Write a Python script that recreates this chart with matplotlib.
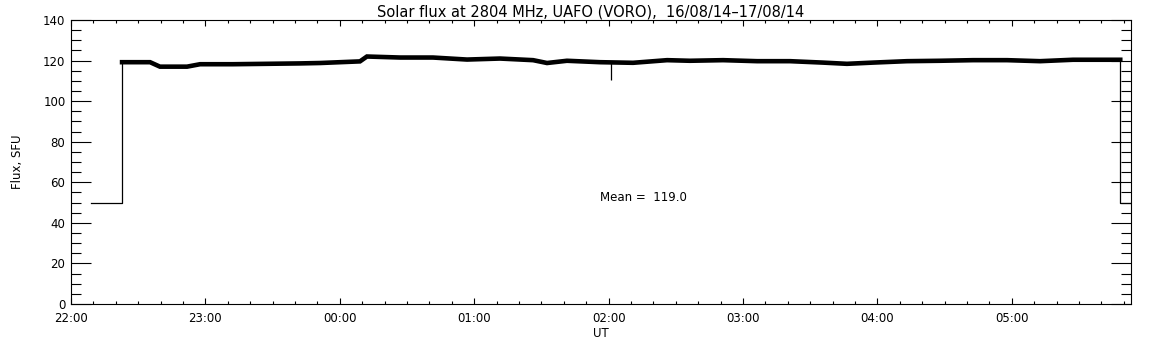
import matplotlib.pyplot as plt
from matplotlib.ticker import MultipleLocator, FuncFormatter

# time in minutes after 22:00 UT (16/08/14), flux in SFU
step_time = [9.0, 22.8, 22.8]
step_flux = [50.0, 50.0, 119.2]

trace_time = [22.8, 35.3, 39.7, 51.8, 57.6, 72.3, 102.2, 111.2, 129.0, 132.1,
              146.9, 161.6, 176.8, 191.5, 206.3, 212.5, 221.4, 236.2, 250.9,
              266.1, 276.3, 291.1, 306.3, 321.0, 335.7, 346.4, 358.0, 373.2,
              387.9, 402.7, 417.9, 432.6, 447.3, 468.4]
trace_flux = [119.2, 119.2, 117.0, 117.0, 118.2, 118.2, 118.6, 118.8, 119.6, 122.0,
              121.5, 121.5, 120.5, 121.0, 120.2, 118.8, 119.9, 119.2, 118.9,
              120.2, 119.9, 120.2, 119.7, 119.7, 119.0, 118.4, 119.0, 119.7,
              119.9, 120.2, 120.2, 119.7, 120.4, 120.4]

end_time = [468.4, 468.4, 480.0]
end_flux = [120.4, 50.0, 50.0]

# short dropout near 02:00
spike_time = 241.0
spike_low = 110.5
spike_high = 119.2

mean_flux = 119.0
title = 'Solar flux at 2804 MHz, UAFO (VORO),  16/08/14\u201317/08/14'
hour_labels = ['22:00', '23:00', '00:00', '01:00', '02:00', '03:00', '04:00', '05:00']


def hour_label(x, pos):
    i = int(round(x / 60))
    if 0 <= i < len(hour_labels):
        return hour_labels[i]
    return ''


def plot():
    plt.rcParams['font.family'] = ['DejaVu Sans']
    fig = plt.figure(figsize=(11.52, 3.45), dpi=100)
    ax = fig.add_axes([71 / 1152, 1 - 304 / 345, 1060 / 1152, 284 / 345])

    ax.plot(step_time, step_flux, color='black', lw=0.9)
    ax.plot(trace_time, trace_flux, color='black', lw=3.3, solid_joinstyle='miter')
    ax.plot(end_time, end_flux, color='black', lw=0.9)
    ax.vlines(spike_time, spike_low, spike_high, color='black', lw=0.9)

    ax.text(236, 52.7, f'Mean =  {mean_flux:.1f}', fontsize=8.5, ha='left', va='center')

    ax.set_xlim(0, 473.2)
    ax.set_ylim(0, 140)

    ax.xaxis.set_major_locator(MultipleLocator(60))
    ax.xaxis.set_minor_locator(MultipleLocator(10))
    ax.xaxis.set_major_formatter(FuncFormatter(hour_label))
    ax.yaxis.set_major_locator(MultipleLocator(20))
    ax.yaxis.set_minor_locator(MultipleLocator(5))

    ax.tick_params(axis='x', which='major', direction='in', length=4, width=0.8,
                   top=True, bottom=True, labelsize=8.5, pad=6)
    ax.tick_params(axis='x', which='minor', direction='in', length=2.2, width=0.8,
                   top=True, bottom=True)
    ax.tick_params(axis='y', which='major', direction='in', length=14.5, width=0.8,
                   left=True, right=True, labelsize=8.5, pad=4)
    ax.tick_params(axis='y', which='minor', direction='in', length=7.2, width=0.8,
                   left=True, right=True)
    for s in ax.spines.values():
        s.set_linewidth(0.8)

    ax.set_ylabel('Flux, SFU', fontsize=8.5, labelpad=14)
    ax.set_xlabel('UT', fontsize=8.5, labelpad=1)
    ax.set_title(title, fontsize=10.5, pad=2, x=0.49)

    plt.savefig('out.png', dpi=100)
    plt.close()


if __name__ == "__main__":
    plot()
